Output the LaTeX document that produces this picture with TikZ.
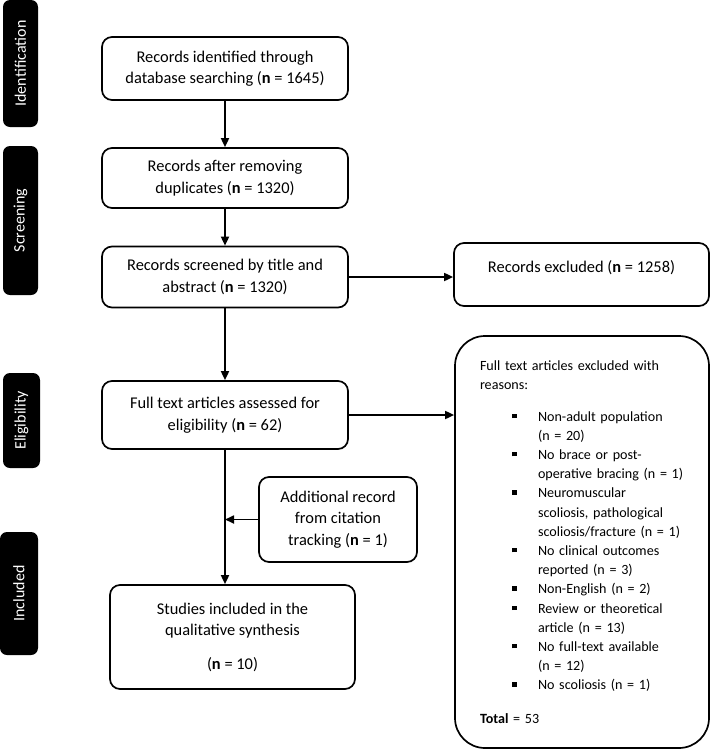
\documentclass[tikz,border=0pt]{standalone}
\usepackage{fontspec}
\setmainfont{Carlito}
\usetikzlibrary{positioning, arrows.meta}

\newcommand{\itm}[1]{\hspace*{32pt}\rule[3pt]{4.5pt}{4.5pt}\hspace*{21.5pt}#1}
\newcommand{\cnt}[1]{\hspace*{58pt}#1}

\begin{document}
\begin{tikzpicture}[x=1pt,y=-1pt,
bx/.style={draw,rounded corners=10pt,line width=1.7pt,align=center,inner sep=0pt,
  font=\fontsize{16.4}{21.5}\selectfont,text=black},
ph/.style={fill=black,rounded corners=7pt,rotate=90,inner sep=0pt,text=white,
  font=\fontsize{16}{17}\selectfont},
xb/.style={draw,rounded corners=30pt,line width=1.7pt,align=left,inner xsep=25pt,
  text width=204pt,minimum height=412pt,font=\fontsize{14.1}{19.2}\selectfont},
arr/.style={line width=1.7pt,-{Triangle[length=9pt,width=8pt]}}]
\useasboundingbox (0,0) rectangle (710,750);
% phases
\node[ph,minimum width=127pt,minimum height=35pt] (idn) at (20.5,63.5) {Identification};
\node[ph,minimum width=149pt,minimum height=35pt] (scr) at (20.5,220.5) {Screening};
\node[ph,minimum width=95pt,minimum height=37pt] (elg) at (21.5,420.5) {Eligibility};
\node[ph,minimum width=123pt,minimum height=38pt] (inc) at (19,593.5) {Included};
% main flow
\node[bx,minimum width=246pt,minimum height=63pt] (rid) at (225,68.5)
  {Records identified through\\database searching (\textbf{n} = 1645)};
\node[bx,minimum width=246pt,minimum height=60pt] (rdup) at (225,178)
  {Records after removing\\duplicates (\textbf{n} = 1320)};
\node[bx,minimum width=246pt,minimum height=61pt] (rscr) at (225,277)
  {Records screened by title and\\abstract (\textbf{n} = 1320)};
\node[bx,minimum width=246pt,minimum height=68pt] (fta) at (225,415)
  {Full text articles assessed for\\eligibility (\textbf{n} = 62)};
\node[bx,minimum width=158pt,minimum height=85pt] (add) at (338,519.5)
  {Additional record\\from citation\\tracking (\textbf{n} = 1)};
\node[bx,minimum width=245pt,minimum height=104pt] (inq) at (232.5,637)
  {Studies included in the\\qualitative synthesis\\[12pt](\textbf{n} = 10)};
% exclusions
\node[bx,minimum width=255pt,minimum height=63pt,text depth=16pt] (rexc) at (581.5,274.5)
  {Records excluded (\textbf{n} = 1258)};
\node[xb] (ftx) at (582,542)
  {Full text articles excluded with\\
   reasons:\\[12pt]
   \itm{Non-adult population}\\
   \cnt{(n = 20)}\\
   \itm{No brace or post-}\\
   \cnt{operative bracing (n = 1)}\\
   \itm{Neuromuscular}\\
   \cnt{scoliosis, pathological}\\
   \cnt{scoliosis/fracture (n = 1)}\\
   \itm{No clinical outcomes}\\
   \cnt{reported (n = 3)}\\
   \itm{Non-English (n = 2)}\\
   \itm{Review or theoretical}\\
   \cnt{article (n = 13)}\\
   \itm{No full-text available}\\
   \cnt{(n = 12)}\\
   \itm{No scoliosis (n = 1)}\\[14pt]
   \textbf{Total} = 53};
% arrows
\draw[arr] (rid) -- (rdup);
\draw[arr] (rdup) -- (rscr);
\draw[arr] (rscr) -- (fta);
\draw[arr] (fta.south) -- (fta.south |- inq.north);
\draw[arr] (add.west) -- (add.west -| fta.south);
\draw[arr] (rscr.east) -- (rscr.east -| rexc.west);
\draw[arr] (fta.east) -- (fta.east -| ftx.west);
\end{tikzpicture}
\end{document}
